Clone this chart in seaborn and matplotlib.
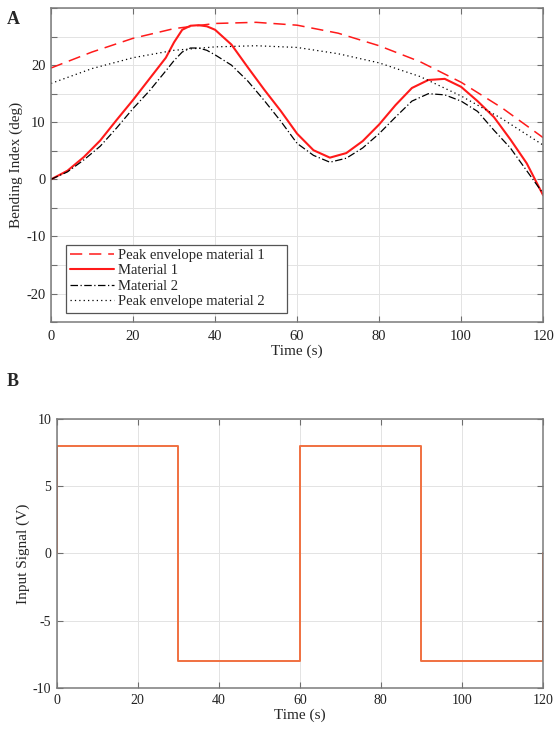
import numpy as np
import pandas as pd
import matplotlib
matplotlib.use("Agg")
import matplotlib.pyplot as plt
import seaborn as sns

# --- Configuration ---
sns.set_theme(style="whitegrid")
plt.rcParams['font.family'] = ['Liberation Serif', 'DejaVu Serif']
plt.rcParams['font.size'] = 10

# --- Data ---
time_a = [0, 4, 8, 12, 16, 20, 24, 28, 30, 32, 34, 36, 38, 40, 44, 48, 52, 56,
          60, 64, 68, 72, 76, 80, 84, 88, 92, 96, 100, 104, 108, 112, 116, 120]
material_1 = [0, 1.5, 3.9, 6.8, 10.4, 13.9, 17.6, 21.3, 24.0, 26.2, 26.9, 27.0,
              26.8, 26.2, 23.6, 19.6, 15.7, 12.0, 8.0, 5.1, 3.8, 4.6, 6.7, 9.6,
              13.0, 16.0, 17.4, 17.6, 16.2, 13.7, 10.9, 7.0, 2.8, -2.8]
material_2 = [0, 1.3, 3.4, 5.8, 9.0, 12.4, 15.5, 19.0, 20.8, 22.3, 23.0, 23.0,
              22.6, 21.8, 20.0, 17.2, 13.8, 10.2, 6.3, 4.2, 3.0, 3.7, 5.5, 8.0,
              10.9, 13.7, 15.0, 14.8, 13.7, 11.9, 8.6, 5.5, 1.5, -2.5]

time_env = [0, 10, 20, 30, 40, 50, 60, 70, 80, 90, 100, 110, 120]
envelope_1 = [19.5, 22.3, 24.7, 26.4, 27.3, 27.5, 27.0, 25.6, 23.4, 20.6, 17.0, 12.5, 7.3]
envelope_2 = [16.8, 19.4, 21.3, 22.6, 23.2, 23.4, 23.1, 22.0, 20.4, 18.0, 14.6, 10.6, 6.0]

time_b = [0, 0, 30, 30, 60, 60, 90, 90, 120, 120]
signal_b = [0, 8, 8, -8, -8, 8, 8, -8, -8, 0]

# --- Figure ---
fig = plt.figure(figsize=(5.58, 7.32), dpi=100)
ax1 = fig.add_axes([0.0914, 0.560, 0.882, 0.429])
ax2 = fig.add_axes([0.1016, 0.060, 0.8714, 0.368])

red = '#FF1A1A'
sns.lineplot(x=time_env, y=envelope_1, ax=ax1, color=red, lw=1.1,
             linestyle=(0, (8, 4.5)), label='Peak envelope material 1')
sns.lineplot(x=time_a, y=material_1, ax=ax1, color=red, lw=1.5,
             label='Material 1')
sns.lineplot(x=time_a, y=material_2, ax=ax1, color='black', lw=0.9,
             linestyle=(0, (6, 2, 1, 2)), label='Material 2')
sns.lineplot(x=time_env, y=envelope_2, ax=ax1, color='black', lw=0.9,
             linestyle=(0, (1, 2.5)), label='Peak envelope material 2')

sns.lineplot(x=time_b, y=signal_b, ax=ax2, color='#F07040', lw=1.4,
             sort=False, estimator=None)

# --- Axes styling (MATLAB-like boxes) ---
def style_axes(ax, ylim, yticks, ylabels, ylabel, tick_size, xpad):
    ax.set_xlim(0, 120)
    ax.set_ylim(*ylim)
    ax.set_xticks([0, 20, 40, 60, 80, 100, 120])
    ax.set_yticks(yticks)
    ax.set_yticklabels(ylabels)
    ax.set_xlabel('Time (s)', fontsize=11, labelpad=1)
    ax.set_ylabel(ylabel, fontsize=11, labelpad=2)
    ax.grid(True, color='#E3E3E3', lw=0.7)
    ax.set_facecolor('white')
    for sp in ax.spines.values():
        sp.set_color('#7A7A7A')
        sp.set_linewidth(1.1)
    ax.tick_params(direction='in', length=4, width=0.8, color='#6E6E6E',
                   top=True, right=True, bottom=True, left=True,
                   labelsize=tick_size, labelcolor='#222222', pad=4)
    ax.tick_params(axis='x', pad=xpad)

ya = list(range(-25, 31, 5))
style_axes(ax1, (-25, 30), ya,
           [str(v) if v % 10 == 0 and v < 30 else '' for v in ya],
           'Bending Index (deg)', 10.5, 6)
yb = [-10, -5, 0, 5, 10]
style_axes(ax2, (-10, 10), yb, [str(v) for v in yb], 'Input Signal (V)', 10, 4)

leg = ax1.legend(loc='lower left', bbox_to_anchor=(0.03, 0.03, 0.45, 0.2),
                 mode='expand', fontsize=10.5,
                 handlelength=3.0, labelspacing=0.15, handletextpad=0.3,
                 borderpad=0.3, fancybox=False, framealpha=1,
                 borderaxespad=0)
leg.get_frame().set_edgecolor('#555555')
leg.get_frame().set_linewidth(0.9)

fig.text(0.012, 0.985, 'A', fontsize=13, fontweight='bold', va='top')
fig.text(0.012, 0.490, 'B', fontsize=13, fontweight='bold', va='top')

fig.savefig('out.png', dpi=100)
